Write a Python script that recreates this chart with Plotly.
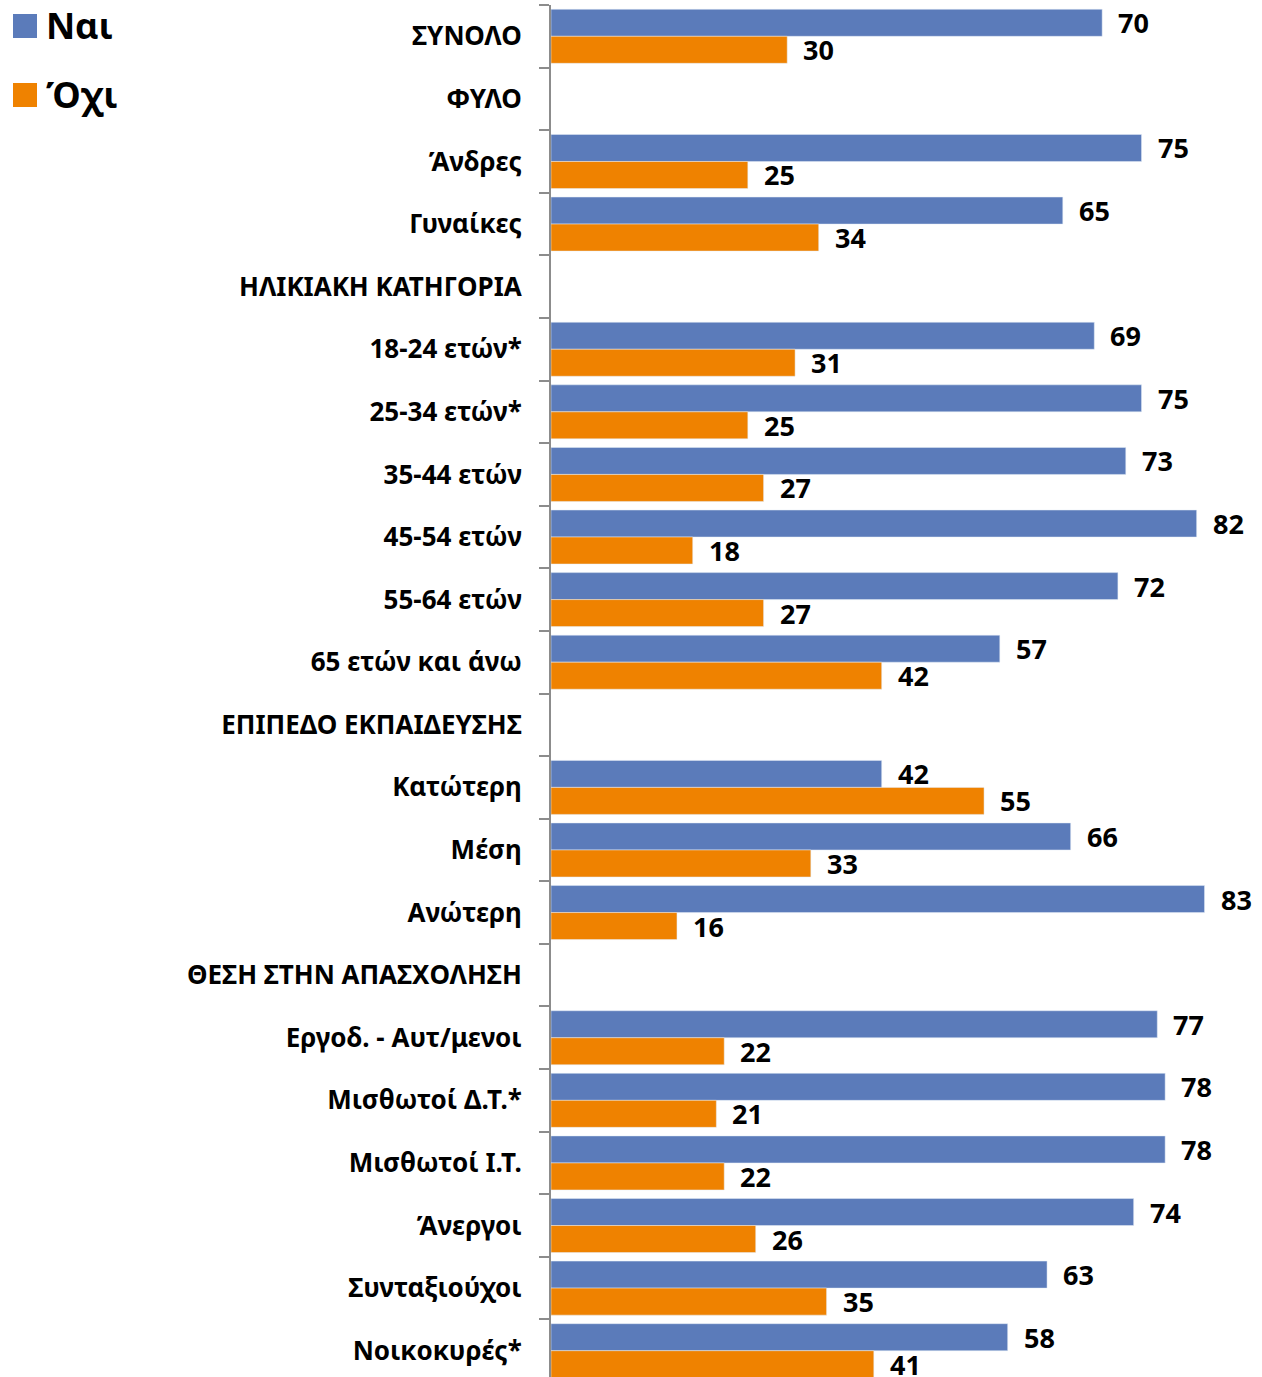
import plotly.graph_objects as go

categories = ["ΣΥΝΟΛΟ", "ΦΥΛΟ", "Άνδρες", "Γυναίκες", "ΗΛΙΚΙΑΚΗ ΚΑΤΗΓΟΡΙΑ",
              "18-24 ετών*", "25-34 ετών*", "35-44 ετών", "45-54 ετών", "55-64 ετών",
              "65 ετών και άνω", "ΕΠΙΠΕΔΟ ΕΚΠΑΙΔΕΥΣΗΣ", "Κατώτερη", "Μέση", "Ανώτερη",
              "ΘΕΣΗ ΣΤΗΝ ΑΠΑΣΧΟΛΗΣΗ", "Εργοδ. - Αυτ/μενοι", "Μισθωτοί Δ.Τ.*",
              "Μισθωτοί Ι.Τ.", "Άνεργοι", "Συνταξιούχοι", "Νοικοκυρές*"]
nai = [70, None, 75, 65, None, 69, 75, 73, 82, 72, 57, None, 42, 66, 83, None, 77, 78, 78, 74, 63, 58]
ochi = [30, None, 25, 34, None, 31, 25, 27, 18, 27, 42, None, 55, 33, 16, None, 22, 21, 22, 26, 35, 41]
series_names = ["Ναι", "Όχι"]

BLUE = "#5B7BBA"
ORANGE = "#EF8200"
FONT = "Noto Sans"

fig = go.Figure()
fig.add_trace(go.Bar(y=categories, x=nai, orientation="h", name=series_names[0],
                     marker=dict(color=BLUE), showlegend=False))
fig.add_trace(go.Bar(y=categories, x=ochi, orientation="h", name=series_names[1],
                     marker=dict(color=ORANGE), showlegend=False))

annotations = []
for vals, ys in ((nai, 13.5), (ochi, -13.5)):
    for c, v in zip(categories, vals):
        if v is None:
            continue
        annotations.append(dict(x=v, y=c, text=str(v), showarrow=False, xanchor="left",
                                xshift=14, yshift=ys,
                                font=dict(family=FONT, size=27, color="black", weight="bold")))

# custom legend
legend_items = [(series_names[0], BLUE, 26), (series_names[1], ORANGE, 95)]
shapes = []
for name, col, yc in legend_items:
    shapes.append(dict(type="rect", xref="paper", yref="paper",
                       x0=(13 - 551) / 711, x1=(37 - 551) / 711,
                       y0=1 - (yc - 12 - 5) / 1372, y1=1 - (yc + 12 - 5) / 1372,
                       fillcolor=col, line=dict(width=0)))
    annotations.append(dict(xref="paper", yref="paper", x=(44 - 551) / 711,
                            y=1 - (yc - 5) / 1372, text=name, showarrow=False,
                            xanchor="left", yanchor="middle",
                            font=dict(family=FONT, size=36, color="black", weight="bold")))

fig.update_layout(
    width=1262, height=1377,
    margin=dict(l=551, r=0, t=5, b=0),
    barmode="group", bargap=0.137, bargroupgap=0.0,
    plot_bgcolor="white", paper_bgcolor="white",
    annotations=annotations, shapes=shapes,
    xaxis=dict(range=[0, 90.3], visible=False),
    yaxis=dict(type="category", range=[21.42, -0.5], showline=True, linecolor="#8C8C8C",
               linewidth=2, ticks="outside", ticklen=10, tickwidth=2, tickcolor="#8C8C8C",
               tickson="boundaries", ticklabelstandoff=22, showgrid=False,
               tickfont=dict(family=FONT, size=26, color="black", weight="bold")),
)

fig.write_html("out.html", config={"displayModeBar": False},
               post_script="document.body.style.margin='0';document.body.style.overflow='hidden';")
